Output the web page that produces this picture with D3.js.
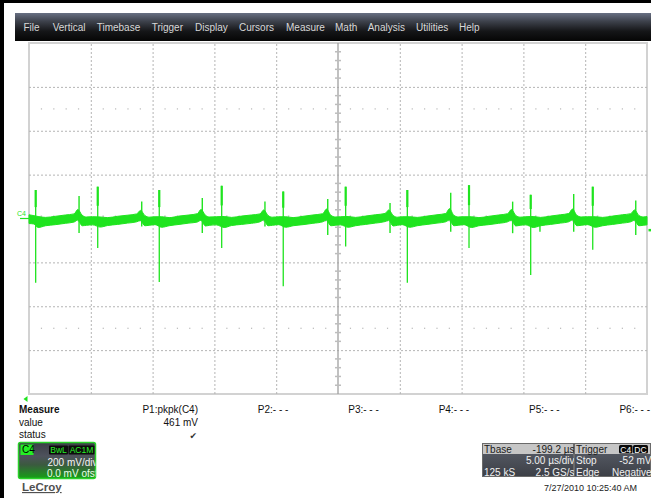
<!DOCTYPE html>
<html><head><meta charset="utf-8">
<script src="https://cdn.jsdelivr.net/npm/d3@7"></script>
<style>
html,body{margin:0;padding:0;background:#fff;overflow:hidden;}
svg{display:block;font-family:"Liberation Sans",Arial,sans-serif;}
</style></head><body>
<svg id="c" width="651" height="498"></svg>
<script>
// ---------------- data ----------------
const menuItems = ["File","Vertical","Timebase","Trigger","Display","Cursors","Measure","Math","Analysis","Utilities","Help"];
const timeDomain = [0, 50];          // µs across the screen (5 µs/div)
const voltDomain = [-800, 800];      // mV (200 mV/div)
const timeDivTicks = [0,5,10,15,20,25,30,35,40,45,50];
const voltDivTicks = [-800,-600,-400,-200,0,200,400,600,800];
const triggerLevel = -52;            // mV

// noise band envelope of channel C4 (time µs, upper mV, lower mV)
const envT  = [0,0.4, 0.74,1.34,2.14,2.94,3.65,3.95,4.30,4.65,5.15, 5.76,6.36,7.16,7.96,8.72,9.02,9.37,9.72,10.2,
  10.74,11.34,12.14,12.94,13.62,13.92,14.27,14.62,15.15, 15.79,16.39,17.19,17.99,18.69,18.99,19.34,19.69,20.2,
  20.77,21.37,22.17,22.97,23.77,24.07,24.42,24.77,25.2, 25.82,26.42,27.22,28.02,28.81,29.11,29.46,29.81,30.2,
  30.81,31.41,32.21,33.01,33.72,34.02,34.37,34.72,35.2, 35.80,36.40,37.20,38.00,38.73,39.03,39.38,39.73,40.2,
  40.79,41.39,42.19,42.99,43.67,43.97,44.32,44.67,45.2, 45.81,46.41,47.21,48.01,48.69,48.99,49.34,49.69,50.0];
const envHi = [17,13, 9,5,10,16,21,41,15,7,8, 7,4,10,15,21,37,14,6,8,
  8,4,11,16,22,41,15,7,8, 9,5,11,16,21,39,14,6,8,
  8,4,10,16,22,43,15,7,8, 9,5,11,17,23,39,14,6,8,
  8,5,11,17,23,45,15,7,8, 8,4,10,16,22,41,14,6,8,
  9,5,11,17,23,43,15,7,8, 8,5,11,17,22,39,14,7,9];
const envLo = [-23,-25, -41,-33,-28,-22,-16,-7,-33,-31,-29, -39,-32,-27,-21,-15,-9,-33,-31,-28,
  -40,-33,-27,-21,-16,-8,-34,-31,-29, -41,-32,-27,-22,-15,-7,-33,-31,-28,
  -40,-33,-28,-22,-15,-8,-33,-31,-29, -40,-33,-27,-21,-14,-8,-34,-31,-28,
  -40,-33,-27,-21,-15,-7,-33,-31,-28, -41,-33,-28,-22,-15,-8,-34,-31,-29,
  -41,-33,-27,-21,-15,-7,-33,-31,-28, -40,-33,-27,-21,-15,-8,-33,-31,-29];

// switching spikes (time µs, peak mV, trough mV)
const bigSpikeT  = [0.54,5.56,10.54,15.59,20.57,25.62,30.61,35.60,40.59,45.61];
const bigSpikeHi = [130,145,130,149,123,145,130,152,108,145];
const bigSpikeLo = [-293,-134,-289,-134,-309,-128,-293,-135,-257,-143];
const smallSpikeT  = [4.05,9.12,14.02,19.09,24.17,29.21,34.12,39.13,41.34,44.07,49.09];
const smallSpikeHi = [103,77,94,77,89,71,117,77,-10,112,82];
const smallSpikeLo = [-66,-37,-66,-37,-75,-66,-60,-67,-60,-60,-75];

const measureHeader = "Measure";
const measureRows = ["value","status"];
const measureParams = ["P1:pkpk(C4)","P2:- - -","P3:- - -","P4:- - -","P5:- - -","P6:- - -"];
const measureValues = ["461 mV"];
const chanLabel = "C4", chanTags = ["BwL","AC1M"], chanScale = "200 mV/div", chanOffset = "0.0 mV ofst";
const tbaseRows = [["Tbase","-199.2 µs"],["","5.00 µs/div"],["125 kS","2.5 GS/s"]];
const trigRows  = [["Trigger",""],["Stop","-52 mV"],["Edge","Negative"]];
const trigTags = ["C4","DC"];
const timestamp = "7/27/2010 10:25:40 AM";
const brand = "LeCroy";

// ---------------- layout ----------------
const svg = d3.select("#c");
const P = {l:29, r:647, t:43, b:394};
const x = d3.scaleLinear().domain(timeDomain).range([P.l, P.r]);
const y = d3.scaleLinear().domain(voltDomain).range([P.b, P.t]);
const GREEN = "#1fe41f";
const defs = svg.append("defs");

// frame
svg.append("rect").attr("width",651).attr("height",498).attr("fill","#fff");
svg.append("rect").attr("x",0).attr("y",0).attr("width",651).attr("height",3).attr("fill","#000");
svg.append("rect").attr("x",0).attr("y",0).attr("width",4).attr("height",498).attr("fill","#000");

// menu bar
const mg = defs.append("linearGradient").attr("id","menuG").attr("x1",0).attr("y1",0).attr("x2",0).attr("y2",1);
mg.append("stop").attr("offset","0%").attr("stop-color","#687083");
mg.append("stop").attr("offset","30%").attr("stop-color","#3d414b");
mg.append("stop").attr("offset","65%").attr("stop-color","#151618");
mg.append("stop").attr("offset","100%").attr("stop-color","#050505");
svg.append("rect").attr("x",15).attr("y",13).attr("width",636).attr("height",28).attr("fill","url(#menuG)");
const menuX = [23.5,52.7,96.7,151.7,195,239,286,335,367.7,416,459];
svg.append("g").selectAll("text").data(menuItems).join("text")
  .attr("x",(d,i)=>menuX[i]).attr("y",31).attr("font-size",10).attr("fill","#d8d8d8").text(d=>d);

// grid
const grid = svg.append("g");
grid.append("rect").attr("x",P.l).attr("y",P.t).attr("width",P.r-P.l).attr("height",P.b-P.t)
  .attr("fill","#fff").attr("stroke","#d2d2d2").attr("stroke-width",2);
const gx = grid.append("g").attr("transform",`translate(0,${P.b})`)
  .call(d3.axisBottom(x).tickValues(timeDivTicks.filter(t=>t>timeDomain[0]&&t<timeDomain[1]&&t!==25))
    .tickSize(-(P.b-P.t)).tickFormat(""));
const gy = grid.append("g").attr("transform",`translate(${P.l},0)`)
  .call(d3.axisLeft(y).tickValues(voltDivTicks.filter(v=>v>voltDomain[0]&&v<voltDomain[1]&&v!==0))
    .tickSize(-(P.r-P.l)).tickFormat(""));
[gx,gy].forEach(g=>{
  g.select(".domain").remove();
  g.selectAll(".tick line").attr("stroke","#b4b4b4").attr("stroke-width",1).attr("stroke-dasharray","2,2");
});
// centre axes (solid) with minor ticks
const cx = x(25), cy = y(0);
grid.append("line").attr("x1",cx).attr("x2",cx).attr("y1",P.t).attr("y2",P.b).attr("stroke","#a0a0a0").attr("stroke-width",1.3);
grid.append("line").attr("x1",P.l).attr("x2",P.r).attr("y1",cy).attr("y2",cy).attr("stroke","#a0a0a0").attr("stroke-width",1.3);
const minorV = d3.range(voltDomain[0], voltDomain[1]+1, 40);
grid.append("g").selectAll("line").data(minorV.filter(v=>v%200!==0)).join("line")
  .attr("x1",cx-3).attr("x2",cx+3).attr("y1",d=>y(d)).attr("y2",d=>y(d)).attr("stroke","#bdbdbd").attr("stroke-width",1.5);
const minorT = d3.range(timeDomain[0], timeDomain[1]+0.01, 1);
grid.append("g").selectAll("line").data(minorT.filter(t=>t%5!==0)).join("line")
  .attr("x1",d=>x(d)).attr("x2",d=>x(d)).attr("y1",cy-3).attr("y2",cy+3).attr("stroke","#bdbdbd").attr("stroke-width",1.5);
// dotted minor rows (1.5 div above / below the outer gridlines)
[500,-500].forEach(v=>{
  grid.append("g").selectAll("rect").data(minorT.filter(t=>t%5!==0)).join("rect")
    .attr("x",d=>x(d)-0.5).attr("y",y(v)-0.5).attr("width",1.2).attr("height",1.2).attr("fill","#b8b8b8");
});

// trace
const tr = svg.append("g");
const env = envT.map((t,i)=>({t, hi:envHi[i], lo:envLo[i]}));
tr.append("path").datum(env)
  .attr("d", d3.area().x(d=>x(d.t)).y0(d=>y(d.lo)).y1(d=>y(d.hi)).curve(d3.curveMonotoneX))
  .attr("fill",GREEN).attr("stroke",GREEN).attr("stroke-width",1).attr("stroke-linejoin","round");
tr.append("g").selectAll("line").data(bigSpikeT).join("line")
  .attr("x1",d=>x(d)).attr("x2",d=>x(d)).attr("y1",(d,i)=>y(bigSpikeHi[i])).attr("y2",(d,i)=>y(bigSpikeLo[i]))
  .attr("stroke",GREEN).attr("stroke-width",1.3);
tr.append("g").selectAll("line").data(bigSpikeT).join("line")
  .attr("x1",d=>x(d)).attr("x2",d=>x(d)).attr("y1",(d,i)=>y(bigSpikeHi[i])).attr("y2",(d,i)=>y(bigSpikeHi[i]*0.4))
  .attr("stroke",GREEN).attr("stroke-width",2.2);
tr.append("g").selectAll("line").data(smallSpikeT).join("line")
  .attr("x1",d=>x(d)).attr("x2",d=>x(d)).attr("y1",(d,i)=>y(smallSpikeHi[i])).attr("y2",(d,i)=>y(smallSpikeLo[i]))
  .attr("stroke",GREEN).attr("stroke-width",1.4);

// channel marker & trigger markers
svg.append("text").attr("x",17).attr("y",216).attr("font-size",7).attr("fill",GREEN).text(chanLabel);
svg.append("line").attr("x1",20).attr("x2",P.l+1).attr("y1",y(0)).attr("y2",y(0)).attr("stroke",GREEN).attr("stroke-width",1.2);
svg.append("rect").attr("x",648.5).attr("y",y(triggerLevel)-1).attr("width",2.5).attr("height",2.5).attr("fill",GREEN);
svg.append("path").attr("d","M23.5,399 L27.5,396 L27.5,402 Z").attr("fill",GREEN);

// measure table
const mt = svg.append("g").attr("font-size",10).attr("fill","#111");
mt.append("text").attr("x",19).attr("y",413).attr("font-weight","bold").text(measureHeader);
mt.selectAll("text.row").data(measureRows).join("text").attr("class","row")
  .attr("x",19).attr("y",(d,i)=>426+i*12).text(d=>d);
const colX = d3.scalePoint().domain(measureParams).range([198,650]);
mt.selectAll("text.par").data(measureParams).join("text").attr("class","par")
  .attr("x",d=>colX(d)).attr("y",413).attr("text-anchor","end").text(d=>d);
mt.selectAll("text.val").data(measureValues).join("text").attr("class","val")
  .attr("x",(d,i)=>colX(measureParams[i])).attr("y",426).attr("text-anchor","end").text(d=>d);
mt.append("text").attr("x",197).attr("y",438.5).attr("text-anchor","end").attr("font-family","DejaVu Sans")
  .attr("font-size",9).attr("fill","#333").text("✔");

// channel badge
const bg = defs.append("linearGradient").attr("id","badgeG").attr("x1",0).attr("y1",0).attr("x2",0).attr("y2",1);
bg.append("stop").attr("offset","0%").attr("stop-color","#3b3e46");
bg.append("stop").attr("offset","38%").attr("stop-color","#4e525c");
bg.append("stop").attr("offset","62%").attr("stop-color","#3b5a3f");
bg.append("stop").attr("offset","100%").attr("stop-color","#16a016");
defs.append("clipPath").attr("id","badgeClip").append("rect").attr("x",18).attr("y",442).attr("width",77.5).attr("height",37);
const badge = svg.append("g");
badge.append("rect").attr("x",18.5).attr("y",442.5).attr("width",77).attr("height",36).attr("rx",2)
  .attr("fill","url(#badgeG)").attr("stroke","#2ad22a").attr("stroke-width",1.5);
badge.append("rect").attr("x",20.5).attr("y",444.5).attr("width",13).attr("height",10.5).attr("fill","#24f024");
badge.append("text").attr("x",22).attr("y",453).attr("font-size",10).attr("fill","#000").text(chanLabel);
const tagX = [49,68.5], tagW = [19,26];
chanTags.forEach((t,i)=>{
  badge.append("rect").attr("x",tagX[i]).attr("y",445.5).attr("width",tagW[i]).attr("height",9).attr("rx",1).attr("fill","#0c0c0c");
  badge.append("text").attr("x",tagX[i]+tagW[i]/2).attr("y",453.2).attr("text-anchor","middle")
    .attr("font-size",8.5).attr("fill","#28f028").text(t);
});
const bt = badge.append("g").attr("clip-path","url(#badgeClip)").attr("font-size",10);
bt.append("text").attr("x",97.5).attr("y",466).attr("text-anchor","end").attr("fill","#f4f4f4").text(chanScale);
bt.append("text").attr("x",97.5).attr("y",476.5).attr("text-anchor","end").attr("fill","#eaffea").text(chanOffset);

// logo
svg.append("text").attr("x",22).attr("y",491).attr("font-size",11.5).attr("font-weight","bold")
  .attr("fill","#505050").attr("text-decoration","underline").text(brand);

// timebase & trigger boxes
const boxG = defs.append("linearGradient").attr("id","boxG").attr("x1",0).attr("y1",0).attr("x2",0).attr("y2",1);
boxG.append("stop").attr("offset","0%").attr("stop-color","#5c616c");
boxG.append("stop").attr("offset","100%").attr("stop-color","#3c3f46");
function infoBox(x0, w, rows, id, tags){
  const g = svg.append("g");
  defs.append("clipPath").attr("id",id).append("rect").attr("x",x0).attr("y",443).attr("width",w).attr("height",34);
  g.append("rect").attr("x",x0+0.5).attr("y",443.5).attr("width",w-1).attr("height",33).attr("fill","url(#boxG)").attr("stroke","#6a6a6a");
  g.append("rect").attr("x",x0+1).attr("y",444).attr("width",w-2).attr("height",10).attr("fill","#c6c6c6");
  const tg = g.append("g").attr("clip-path",`url(#${id})`).attr("font-size",10);
  rows.forEach((r,i)=>{
    const yy = 453 + i*11.3;
    const col = i===0 ? "#1a1a1a" : "#f0f0f0";
    tg.append("text").attr("x",x0+2).attr("y",yy).attr("fill",col).text(r[0]);
    tg.append("text").attr("x",x0+w+0.5).attr("y",yy).attr("text-anchor","end").attr("fill",col).text(r[1]);
  });
  if(tags){
    const tx = [x0+45, x0+59], tw=[13.5,15];
    tags.forEach((t,i)=>{
      g.append("rect").attr("x",tx[i]).attr("y",445).attr("width",tw[i]).attr("height",8.5).attr("rx",1.5).attr("fill","#0a0a0a");
      g.append("text").attr("x",tx[i]+tw[i]/2).attr("y",452.5).attr("text-anchor","middle").attr("font-size",8.5)
        .attr("fill","#fff").text(t);
    });
  }
}
infoBox(482, 92, tbaseRows, "tbClip");
infoBox(574, 77, trigRows, "trClip", trigTags);

svg.append("text").attr("x",637).attr("y",491).attr("text-anchor","end").attr("font-size",9).attr("fill","#222").text(timestamp);
</script>
</body></html>
